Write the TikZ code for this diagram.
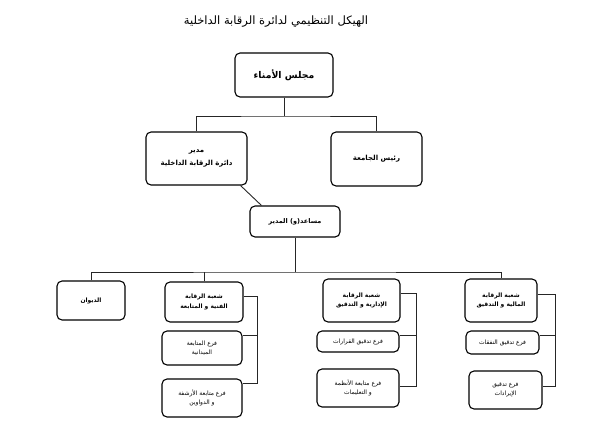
\documentclass[tikz,border=0pt]{standalone}
\usepackage{fontspec}
\TeXXeTstate=1
\newfontfamily\arabicfont[Script=Arabic]{DejaVu Sans}
\newcommand{\artxt}[1]{{\arabicfont\beginR #1\endR}}
\begin{document}
\begin{tikzpicture}[x=1pt,y=-1pt,
  box/.style={draw=black,line width=1.1pt,rounded corners=5pt,inner sep=1pt,align=center,font=\bfseries\fontsize{6}{9.5}\selectfont},
  subbox/.style={box,font=\fontsize{6}{9.5}\selectfont},
  conn/.style={draw=black!85,line width=0.9pt}]
\useasboundingbox (0,0) rectangle (602,445);
\node (title) at (276,22) {\fontsize{11.5}{14}\selectfont\artxt{الهيكل التنظيمي لدائرة الرقابة الداخلية}};
\node[box,minimum width=98pt,minimum height=44pt,font=\bfseries\fontsize{9.3}{11}\selectfont] (board) at (284,75) {\artxt{مجلس الأمناء}};
\node[box,minimum width=101pt,minimum height=53pt,font=\bfseries\fontsize{7}{13.5}\selectfont] (dir) at (196.5,158.5) {\artxt{مدير}\\\artxt{دائرة الرقابة الداخلية}};
\node[box,minimum width=91pt,minimum height=54pt,font=\bfseries\fontsize{7}{9}\selectfont] (pres) at (376.5,159) {\artxt{رئيس الجامعة}};
\node[box,minimum width=90pt,minimum height=31pt,font=\bfseries\fontsize{6.5}{9}\selectfont] (asst) at (295,221.5) {\artxt{مساعد(و) المدير}};
\node[box,minimum width=68pt,minimum height=39pt] (diwan) at (91,300.5) {\artxt{الديوان}};
\node[box,minimum width=78pt,minimum height=40pt] (tech) at (204,302) {\artxt{شعبة الرقابة}\\\artxt{الفنية و المتابعة}};
\node[subbox,minimum width=80pt,minimum height=34pt] (tsub1) at (202,348) {\artxt{فرع المتابعة}\\\artxt{الميدانية}};
\node[subbox,minimum width=80pt,minimum height=38pt] (tsub2) at (202,398) {\artxt{فرع متابعة الأرشفة}\\\artxt{و الدواوين}};
\node[box,minimum width=77pt,minimum height=43pt] (adm) at (361.5,300.5) {\artxt{شعبة الرقابة}\\\artxt{الإدارية و التدقيق}};
\node[subbox,minimum width=82pt,minimum height=21pt] (asub1) at (358,341.5) {\artxt{فرع تدقيق القرارات}};
\node[subbox,minimum width=82pt,minimum height=38pt] (asub2) at (358,388) {\artxt{فرع متابعة الأنظمة}\\\artxt{و التعليمات}};
\node[box,minimum width=72pt,minimum height=43pt] (fin) at (501,300.5) {\artxt{شعبة الرقابة}\\\artxt{المالية و التدقيق}};
\node[subbox,minimum width=73pt,minimum height=23pt] (fsub1) at (502.5,342.5) {\artxt{فرع تدقيق النفقات}};
\node[subbox,minimum width=73pt,minimum height=38pt] (fsub2) at (505.5,390) {\artxt{فرع تدقيق}\\\artxt{الإيرادات}};
% top connectors
\coordinate (j1) at (285,116);
\draw[conn] (board.south) -- (board.south |- j1);
\draw[conn] (dir.north) |- (j1) -| (pres.north);
\draw[conn] ([xshift=-7pt]dir.south east) -- ([xshift=12pt]asst.north west);
% level bus
\coordinate (j2) at (293,272);
\draw[conn] (asst.south) -- (asst.south |- j2);
\draw[conn] (diwan.north) |- (j2) -| (fin.north);
\draw[conn] (tech.north) -- (tech.north |- j2);
% brackets
\coordinate (tb) at (257,383);
\draw[conn] ([yshift=-15pt]tech.north east) -| (tb) -- (tb -| tsub2.east);
\draw[conn] ([yshift=-5pt]tsub1.north east) -- ([yshift=-5pt]tsub1.north east -| tb);
\coordinate (ab) at (416,386);
\draw[conn] ([yshift=-15pt]adm.north east) -| (ab) -- (ab -| asub2.east);
\draw[conn] ([yshift=-5pt]asub1.north east) -- ([yshift=-5pt]asub1.north east -| ab);
\coordinate (fb) at (555,386);
\draw[conn] ([yshift=-16pt]fin.north east) -| (fb) -- (fb -| fsub2.east);
\draw[conn] ([yshift=-5pt]fsub1.north east) -- ([yshift=-5pt]fsub1.north east -| fb);
\end{tikzpicture}
\end{document}
